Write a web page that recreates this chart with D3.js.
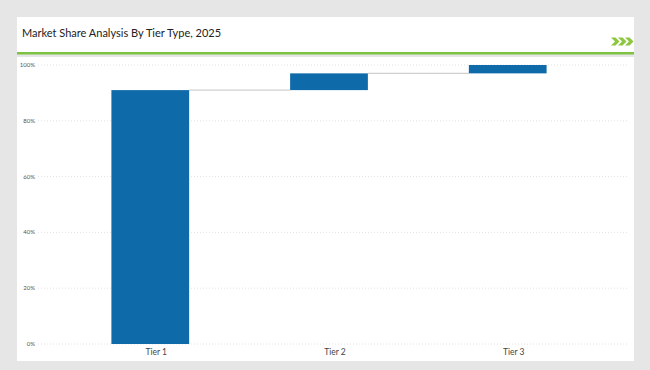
<!DOCTYPE html>
<html>
<head>
<meta charset="utf-8">
<script src="https://cdn.jsdelivr.net/npm/d3@7"></script>
<style>
  body { margin: 0; background: #e6e6e6; }
  svg { display: block; font-family: Lato, "Open Sans", sans-serif; }
</style>
</head>
<body>
<div id="chart"></div>
<script>
// data
var tiers = ["Tier 1", "Tier 2", "Tier 3"];
var shares = [91, 6, 3];
var yTicks = [0, 20, 40, 60, 80, 100];

var svgWidth = 650;
var svgHeight = 370;

var svg = d3.select("#chart")
    .append("svg")
    .attr("width", svgWidth)
    .attr("height", svgHeight);

// background
svg.append("rect").attr("width", svgWidth).attr("height", svgHeight).attr("fill", "#e6e6e6");

// title panel
svg.append("rect").attr("x", 17).attr("y", 17).attr("width", 617).attr("height", 36).attr("fill", "#fff");
svg.append("rect").attr("x", 17).attr("y", 52).attr("width", 617).attr("height", 2.5).attr("fill", "#7dc242");
svg.append("text")
    .attr("x", 22).attr("y", 37)
    .attr("font-size", 11)
    .attr("fill", "#222")
    .text("Market Share Analysis By Tier Type, 2025");

// chevrons
var chev = svg.append("g").attr("fill", "#8dc63f");
[0, 7, 14].forEach(function(dx) {
    chev.append("path")
        .attr("d", "M" + (611 + dx) + ",37.5 l4.5,0 l4,4 l-4,4 l-4.5,0 l4,-4 z");
});

// chart panel
svg.append("rect").attr("x", 17).attr("y", 57).attr("width", 617).attr("height", 304).attr("fill", "#fff");

// scales
var xScale = d3.scaleBand()
    .domain(tiers)
    .range([61, 597])
    .paddingInner(0.565)
    .paddingOuter(0.282);

var yScale = d3.scaleLinear()
    .domain([0, 100])
    .range([344, 65]);

// gridlines
svg.append("g")
    .selectAll("line")
    .data(yTicks)
    .enter()
    .append("line")
    .attr("x1", 38).attr("x2", 628)
    .attr("y1", d => yScale(d)).attr("y2", d => yScale(d))
    .attr("stroke", "#e2e2e2")
    .attr("stroke-width", 1)
    .attr("stroke-dasharray", "1,2");

// y labels
svg.append("g")
    .selectAll("text")
    .data(yTicks)
    .enter()
    .append("text")
    .attr("x", 35)
    .attr("y", d => yScale(d) + 2)
    .attr("text-anchor", "end")
    .attr("font-size", 6)
    .attr("fill", "#555")
    .text(d => d + "%");

// waterfall
var cum = 0;
var steps = shares.map(function(v, i) {
    var s = { tier: tiers[i], start: cum, end: cum + v };
    cum += v;
    return s;
});

// connectors
svg.append("g")
    .selectAll("line")
    .data(steps.slice(0, -1))
    .enter()
    .append("line")
    .attr("x1", d => xScale(d.tier) + xScale.bandwidth())
    .attr("x2", (d, i) => xScale(tiers[i + 1]))
    .attr("y1", d => yScale(d.end)).attr("y2", d => yScale(d.end))
    .attr("stroke", "#d0d0d0")
    .attr("stroke-width", 1.2);

svg.append("g")
    .selectAll("rect")
    .data(steps)
    .enter()
    .append("rect")
    .attr("x", d => xScale(d.tier))
    .attr("y", d => yScale(d.end))
    .attr("width", xScale.bandwidth())
    .attr("height", d => yScale(d.start) - yScale(d.end))
    .attr("fill", "#0e6aa8");

// x labels (sit a little right of bar centre, as in the source)
svg.append("g")
    .selectAll("text")
    .data(tiers)
    .enter()
    .append("text")
    .attr("x", d => xScale(d) + xScale.bandwidth() / 2 + 6)
    .attr("y", 355)
    .attr("text-anchor", "middle")
    .attr("font-size", 8.5)
    .attr("fill", "#444")
    .text(d => d);
</script>
</body>
</html>
